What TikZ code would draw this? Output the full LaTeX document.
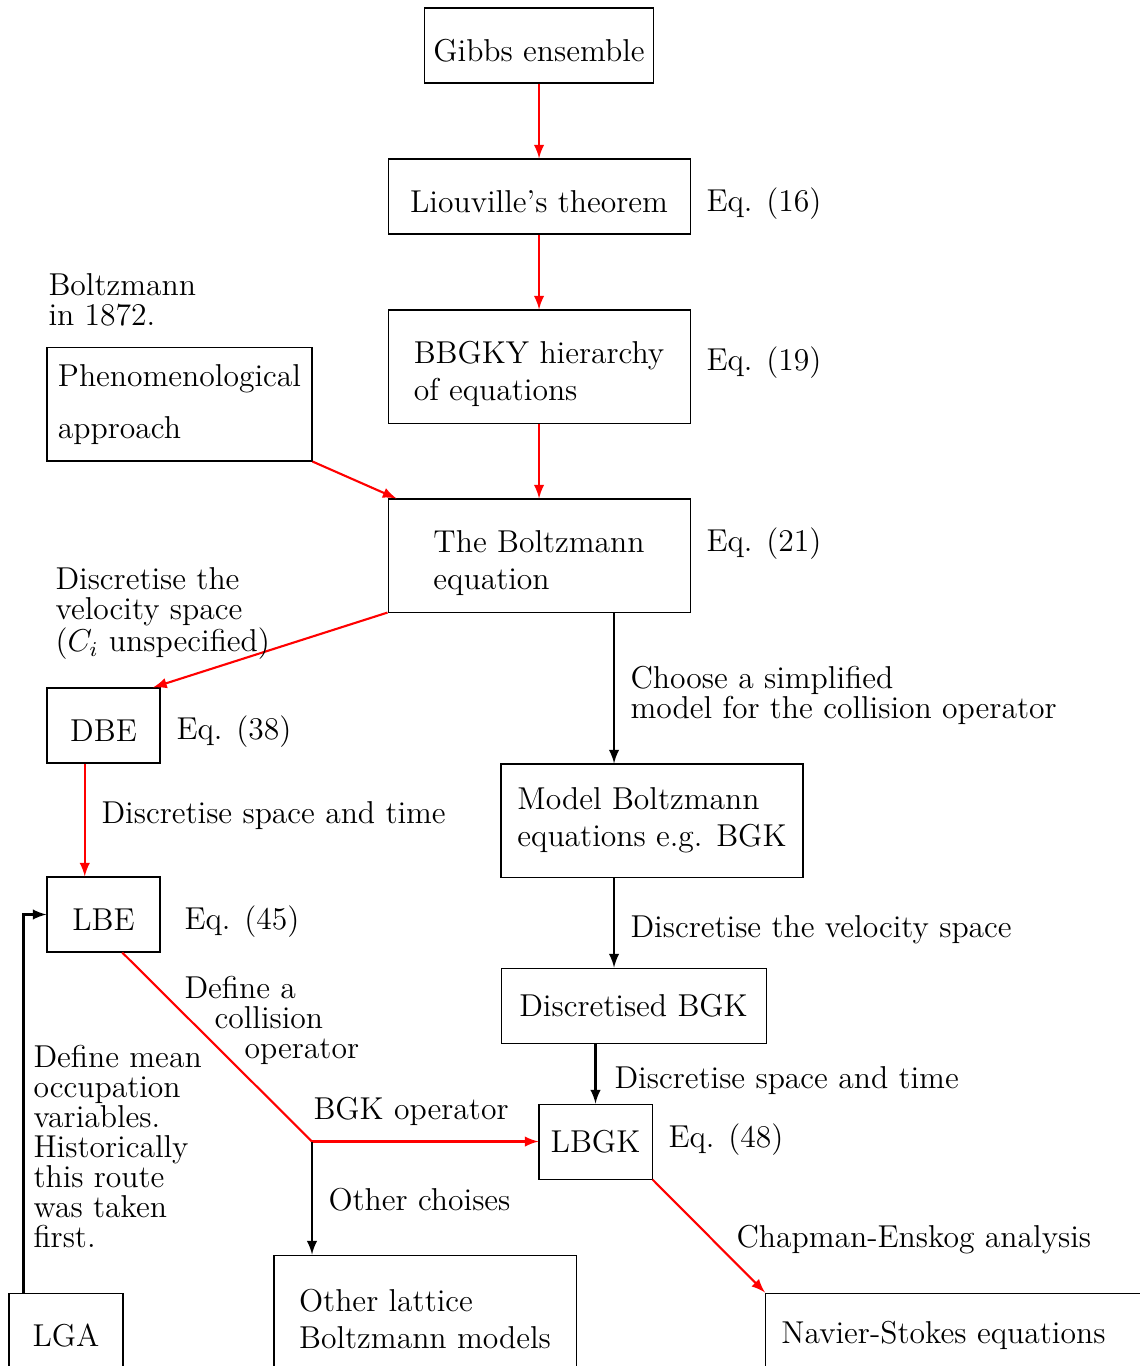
\documentclass[tikz,border=0pt]{standalone}
\usepackage{amsmath}
\usepackage{tikz}
\usetikzlibrary{arrows,shapes,positioning,calc}
\usepackage{xcolor}
\definecolor{lbred}{RGB}{255,0,0}
\newcommand{\firstline}{\rule{0pt}{14pt}}
\tikzstyle{redarrow} = [thick,->,>=latex,color=lbred]
\tikzstyle{redline} = [thick,color=lbred]
\tikzstyle{blackarrow} = [thick,->,>=latex,color=black]
\tikzstyle{stage} = [rectangle, draw=black, minimum width=1.507cm, minimum height=1cm, align=left, font=\large]
\tikzstyle{lowstage} = [stage, execute at begin node={\rule{0pt}{12.2pt}}]
\tikzstyle{note} = [inner sep=0pt, anchor=west, align=left, font={\fontsize{12}{11.4}\selectfont}]

\begin{document}
\begin{tikzpicture}
    \useasboundingbox (0,0) rectangle (15.187,-18.213);
    % Nodes
    \node[lowstage, minimum width=3.013cm] (gibbs) at (7.187,-0.607) {Gibbs ensemble};
    \node[lowstage, minimum width=4.027cm] (liou) at (7.187,-2.62) {Liouville's theorem};
    \node[stage, minimum width=4.027cm, minimum height=1.507cm] (bbgky) at (7.187,-4.887) {\firstline BBGKY hierarchy\\of equations};
    \node[stage, minimum width=3.533cm, minimum height=1.507cm] (pheno) at (2.393,-5.393) {Phenomenological\\[6pt]approach};
    \node[stage, minimum width=4.027cm, minimum height=1.507cm] (boltz) at (7.187,-7.407) {\firstline The Boltzmann\\equation};
    \node[lowstage] (dbe) at (1.38,-9.673) {DBE};
    \node[lowstage] (lbe) at (1.38,-12.193) {LBE};
    \node[stage, minimum width=4.027cm, minimum height=1.507cm] (model) at (8.693,-10.94) {Model Boltzmann\\equations e.g. BGK};
    \node[stage, minimum width=3.533cm] (dbgk) at (8.447,-13.407) {Discretised BGK};
    \node[stage] (lbgk) at (7.94,-15.22) {LBGK};
    \node[lowstage, minimum width=1.52cm] (lga) at (0.88,-17.74) {LGA};
    \node[stage, minimum width=4.027cm, minimum height=1.507cm] (other) at (5.667,-17.487) {\firstline Other lattice\\Boltzmann models};
    \node[lowstage, anchor=west, text width=5cm, inner xsep=6pt] (navier) at (10.2,-17.74) {Navier-Stokes equations};
    \coordinate (split) at (4.16,-15.22);

    % Equation numbers
    \node[note] (eqliou) at (9.413,-2.72) {Eq. (16)};
    \node[note] (eqbbgky) at (9.413,-4.83) {Eq. (19)};
    \node[note] (eqboltz) at (9.413,-7.243) {Eq. (21)};
    \node[note] (eqdbe) at (2.347,-9.753) {Eq. (38)};
    \node[note] (eqlbe) at (2.453,-12.283) {Eq. (45)};
    \node[note] (eqlbgk) at (8.907,-15.193) {Eq. (48)};

    % Arrows
    \draw[redarrow] (gibbs) -- (liou);
    \draw[redarrow] (liou) -- (bbgky);
    \draw[redarrow] (bbgky) -- (boltz);
    \draw[redarrow] (pheno.south east) -- ([xshift=0.12cm]boltz.north west);
    \draw[redarrow] (boltz.south west) -- ([xshift=-0.1cm]dbe.north east);
    \draw[blackarrow] ([xshift=1cm]boltz.south) -- ([xshift=1cm]boltz.south |- model.north);
    \draw[redarrow] ([xshift=-0.25cm]dbe.south) -- ([xshift=-0.25cm]lbe.north);
    \draw[blackarrow] ([xshift=1cm]boltz.south |- model.south) -- ([xshift=1cm]boltz.south |- dbgk.north);
    \draw[blackarrow] (lbgk.north |- dbgk.south) -- (lbgk.north);
    \draw[redline] ([xshift=0.25cm]lbe.south) -- (split);
    \draw[redarrow] (split) -- (lbgk.west);
    \draw[blackarrow] (split) -- (split |- other.north);
    \draw[redarrow] (lbgk.south east) -- (navier.north west);
    \draw[blackarrow] ([xshift=0.2cm]lga.north west) |- (lbe.west);

    % Labels
    \node[note] (boltz1872) at (0.64,-4.0) {Boltzmann\\in 1872.};
    \node[note] (dvs) at (0.733,-8.18) {Discretise the\\velocity space\\($C_i$ unspecified)};
    \node[note] (choose) at (8.4,-9.267) {Choose a simplified\\model for the collision operator};
    \node[note] (dst1) at (1.347,-10.88) {Discretise space and time};
    \node[note] (dvs2) at (8.4,-12.4) {Discretise the velocity space};
    \node[note] (dst2) at (8.187,-14.413) {Discretise space and time};
    \node[note] (collop) at (2.453,-13.607) {Define a\\\hspace*{11.4pt}collision\\\hspace*{22.8pt}operator};
    \node[note] (bgkop) at (4.173,-14.813) {BGK operator};
    \node[note] (otherch) at (4.373,-15.994) {Other choises};
    \node[note] (chapman) at (9.813,-16.523) {Chapman-Enskog analysis};
    \node[note] (meanocc) at (0.44,-15.29) {Define mean\\occupation\\variables.\\Historically\\this route\\was taken\\first.};
\end{tikzpicture}
\end{document}
